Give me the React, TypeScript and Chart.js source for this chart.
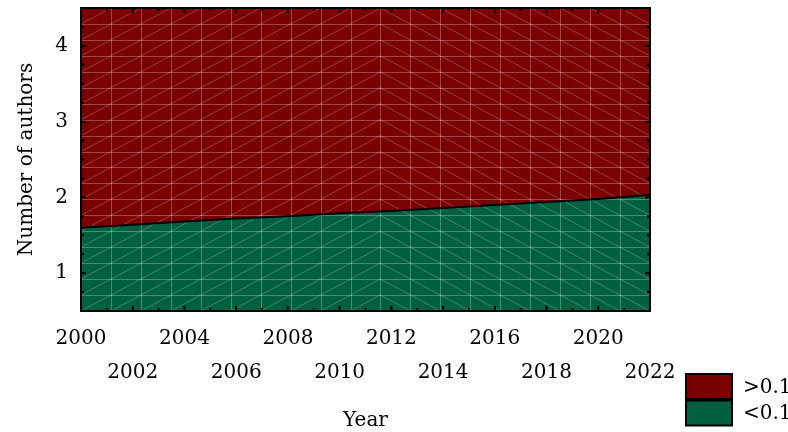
import React, { useEffect, useRef } from 'react';
import { Chart, registerables } from 'chart.js';

Chart.register(...registerables);

// ---- data ----
const boundaryYears = [2000, 2002, 2004, 2006, 2008, 2010, 2012, 2014, 2016, 2018, 2020, 2022];
const boundaryValues = [1.6, 1.64, 1.68, 1.72, 1.75, 1.79, 1.82, 1.86, 1.9, 1.94, 1.98, 2.03];
const xTickYears = [2000, 2002, 2004, 2006, 2008, 2010, 2012, 2014, 2016, 2018, 2020, 2022];
const yTickValues = [1, 2, 3, 4];
const legendLabels = ['>0.1', '<0.1'];
const legendColors = ['#7A0000', '#00603F'];
const xRange = [2000, 2022];
const yRange = [0.5, 4.5];
const xTitle = 'Year';
const yTitle = 'Number of authors';

const MESH_COLS = 19;
const MESH_ROWS = 19;
const FONT = 'DejaVu Serif';

const meshAndFramePlugin = {
  id: 'meshAndFrame',
  beforeDatasetDraw(chart: any, args: any) {
    if (args.index !== 0) return;
    const { ctx, chartArea: a, scales } = chart;
    const x = scales.x;
    const y = scales.y;
    ctx.save();
    ctx.beginPath();
    ctx.rect(a.left, a.top, a.right - a.left, a.bottom - a.top);
    ctx.clip();
    const px = (k: number) => x.getPixelForValue(x.min + ((x.max - x.min) * k) / MESH_COLS);
    const py = (j: number) => y.getPixelForValue(y.min + ((y.max - y.min) * j) / MESH_ROWS);
    ctx.lineWidth = 1;
    ctx.strokeStyle = 'rgba(255,255,255,0.28)';
    ctx.beginPath();
    for (let k = 1; k < MESH_COLS; k++) {
      const xx = Math.round(px(k)) + 0.5;
      ctx.moveTo(xx, a.top);
      ctx.lineTo(xx, a.bottom);
    }
    for (let j = 1; j < MESH_ROWS; j++) {
      const yy = Math.round(py(j)) + 0.5;
      ctx.moveTo(a.left, yy);
      ctx.lineTo(a.right, yy);
    }
    ctx.stroke();
    ctx.strokeStyle = 'rgba(255,255,255,0.24)';
    ctx.beginPath();
    const half = Math.ceil(MESH_COLS / 2);
    for (let k = 0; k < MESH_COLS; k++) {
      for (let j = 0; j < MESH_ROWS; j++) {
        if (k < half) {
          ctx.moveTo(px(k), py(j));
          ctx.lineTo(px(k + 1), py(j + 1));
        } else {
          ctx.moveTo(px(k), py(j + 1));
          ctx.lineTo(px(k + 1), py(j));
        }
      }
    }
    ctx.stroke();
    ctx.restore();
  },
  afterDraw(chart: any) {
    const { ctx, chartArea: a, scales } = chart;
    const x = scales.x;
    const y = scales.y;
    ctx.save();
    // ticks (inward, all four sides)
    ctx.strokeStyle = '#000';
    ctx.lineWidth = 2;
    ctx.beginPath();
    for (let yr = xRange[0] + 1; yr < xRange[1]; yr++) {
      const len = yr % 2 === 0 ? 5 : 3;
      const xx = x.getPixelForValue(yr);
      ctx.moveTo(xx, a.bottom);
      ctx.lineTo(xx, a.bottom - len);
      ctx.moveTo(xx, a.top);
      ctx.lineTo(xx, a.top + len);
    }
    for (let v = yRange[0] + 0.25; v < yRange[1] - 0.001; v += 0.25) {
      const isMajor = Math.abs(v - Math.round(v)) < 1e-6;
      const len = isMajor ? 5 : 3;
      const yy = y.getPixelForValue(v);
      ctx.moveTo(a.left, yy);
      ctx.lineTo(a.left + len, yy);
      ctx.moveTo(a.right, yy);
      ctx.lineTo(a.right - len, yy);
    }
    ctx.stroke();
    // frame
    ctx.lineWidth = 2;
    ctx.strokeRect(a.left, a.top, a.right - a.left, a.bottom - a.top);

    // legend
    const ds = chart.data.datasets;
    const items = [ds[2], ds[1]];
    const bx = 686;
    const bw = 46;
    const bh = 25;
    const tops = [374, 400.5];
    ctx.font = `20px "${FONT}"`;
    ctx.textBaseline = 'middle';
    ctx.textAlign = 'left';
    items.forEach((d: any, i: number) => {
      ctx.fillStyle = d.backgroundColor;
      ctx.fillRect(bx, tops[i], bw, bh);
      ctx.lineWidth = 2;
      ctx.strokeStyle = '#000';
      ctx.strokeRect(bx, tops[i], bw, bh);
      ctx.fillStyle = '#000';
      ctx.fillText(d.label, bx + bw + 11, tops[i] + bh / 2 + 1);
    });
    ctx.restore();
  },
};

export default function App() {
  const canvasRef = useRef<HTMLCanvasElement | null>(null);

  useEffect(() => {
    document.body.style.margin = '0';
    const canvas = canvasRef.current;
    if (!canvas) return;
    const pts = boundaryYears.map((yr, i) => ({ x: yr, y: boundaryValues[i] }));
    const chart = new Chart(canvas, {
      type: 'line',
      data: {
        datasets: [
          {
            label: 'boundary',
            data: pts,
            borderColor: '#000',
            borderWidth: 2,
            pointRadius: 0,
            fill: false,
            tension: 0,
          },
          {
            label: legendLabels[1],
            data: pts,
            borderColor: 'transparent',
            borderWidth: 0,
            backgroundColor: legendColors[1],
            pointRadius: 0,
            fill: 'start',
          },
          {
            label: legendLabels[0],
            data: pts,
            borderColor: 'transparent',
            borderWidth: 0,
            backgroundColor: legendColors[0],
            pointRadius: 0,
            fill: 'end',
          },
        ],
      },
      options: {
        responsive: false,
        animation: false,
        devicePixelRatio: 1,
        layout: { padding: { left: 0, right: 138, top: 8, bottom: 0 } },
        plugins: {
          legend: { display: false },
          tooltip: { enabled: false },
        },
        scales: {
          x: {
            type: 'linear',
            min: xRange[0],
            max: xRange[1],
            grid: { display: false, drawTicks: false },
            border: { display: false },
            afterBuildTicks: (scale: any) => {
              scale.ticks = xTickYears.map((v) => ({ value: v }));
            },
            afterFit: (scale: any) => {
              scale.height = 121;
              scale.paddingLeft = 0;
              scale.paddingRight = 0;
            },
            ticks: {
              autoSkip: false,
              maxRotation: 0,
              minRotation: 0,
              padding: 11.5,
              color: '#000',
              font: { family: FONT, size: 20, lineHeight: 1.665 },
              callback: (value: any, index: number) =>
                index % 2 === 0 ? String(value) : ['', String(value)],
            },
            title: {
              display: true,
              text: xTitle,
              color: '#000',
              font: { family: FONT, size: 20 },
              padding: { top: 0, bottom: -1 },
            },
          },
          y: {
            type: 'linear',
            min: yRange[0],
            max: yRange[1],
            grid: { display: false, drawTicks: false },
            border: { display: false },
            afterBuildTicks: (scale: any) => {
              scale.ticks = yTickValues.map((v) => ({ value: v }));
            },
            afterFit: (scale: any) => {
              scale.width = 81;
              scale.paddingTop = 0;
              scale.paddingBottom = 0;
            },
            ticks: {
              padding: 13,
              color: '#000',
              font: { family: FONT, size: 20 },
              callback: (value: any) => String(value),
            },
            title: {
              display: true,
              text: yTitle,
              color: '#000',
              font: { family: FONT, size: 20 },
              padding: { top: 15, bottom: 0 },
            },
          },
        },
      },
      plugins: [meshAndFramePlugin],
    } as any);
    return () => chart.destroy();
  }, []);

  return (
    <div style={{ position: 'fixed', left: 0, top: 0, width: 788, height: 432, background: '#fff' }}>
      <canvas ref={canvasRef} width={788} height={432} style={{ display: 'block' }} />
    </div>
  );
}
